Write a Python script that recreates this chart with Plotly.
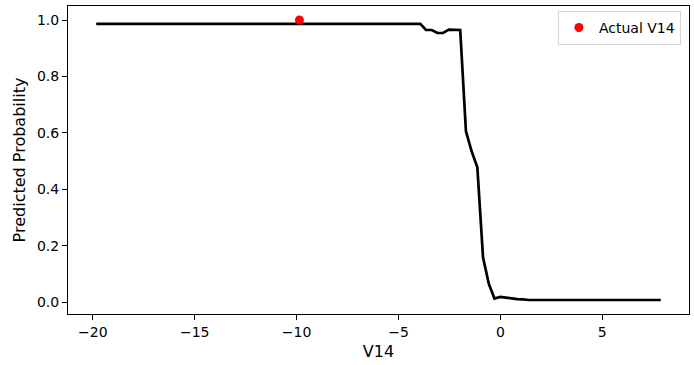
import plotly.graph_objects as go

# Partial-dependence style curve for V14
v14_grid = [-19.83, -3.93, -3.65, -3.37, -3.09, -2.81, -2.53, -2.25, -1.97,
            -1.69, -1.41, -1.13, -0.85, -0.57, -0.29, -0.01, 0.27, 0.55,
            0.83, 1.11, 1.39, 7.87]
pred_prob = [0.986, 0.986, 0.9645, 0.9645, 0.954, 0.954, 0.966, 0.965, 0.9645,
             0.606, 0.535, 0.478, 0.158, 0.066, 0.013, 0.019, 0.016, 0.012,
             0.011, 0.010, 0.008, 0.008]

actual_v14 = [-9.86]
actual_prob = [1.0]

x_ticks = [-20, -15, -10, -5, 0, 5]
y_ticks = [0.0, 0.2, 0.4, 0.6, 0.8, 1.0]

fig = go.Figure()
fig.add_trace(go.Scatter(x=v14_grid, y=pred_prob, mode="lines",
                         line=dict(color="black", width=2.7),
                         showlegend=False, hoverinfo="skip"))
fig.add_trace(go.Scatter(x=actual_v14, y=actual_prob, mode="markers",
                         marker=dict(color="#ff0000", size=9),
                         name="Actual V14"))

xmin, xmax = min(v14_grid), max(v14_grid)
xm = 0.05 * (xmax - xmin)
ymin, ymax = min(pred_prob + actual_prob), max(pred_prob + actual_prob)
ym = 0.05 * (ymax - ymin)

axis_common = dict(showgrid=False, zeroline=False, showline=True, linecolor="black",
                   linewidth=1, mirror=True, ticks="outside", ticklen=5, tickwidth=1,
                   tickcolor="black", tickfont=dict(size=14, color="black"))

fig.update_layout(
    width=694, height=365,
    margin=dict(l=68, r=5, t=6, b=51),
    paper_bgcolor="white", plot_bgcolor="white",
    font=dict(family="DejaVu Sans", color="black"),
    xaxis=dict(range=[xmin - xm, xmax + xm], tickvals=x_ticks,
               title=dict(text="V14", font=dict(size=16), standoff=7),
               automargin=False, **axis_common),
    yaxis=dict(range=[ymin - ym, ymax + ym], tickvals=y_ticks, tickformat=".1f",
               title=dict(text="Predicted Probability", font=dict(size=16), standoff=7),
               automargin=False, **axis_common),
    legend=dict(x=0.987, y=0.984, xanchor="right", yanchor="top",
                bordercolor="#d6d6d6", borderwidth=1, bgcolor="rgba(255,255,255,0.8)",
                font=dict(size=14)),
)

fig.write_html("out.html")
